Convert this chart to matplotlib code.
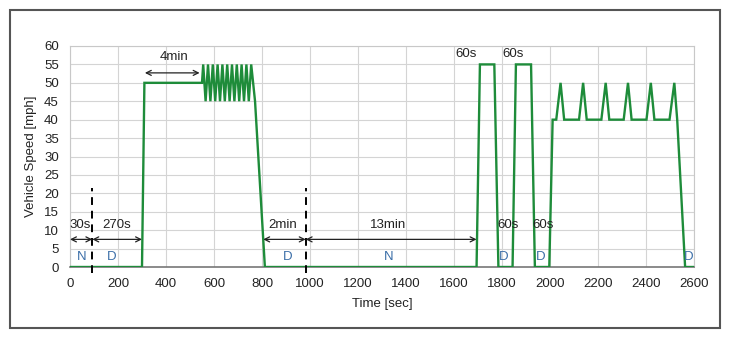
import matplotlib
matplotlib.use("Agg")
import matplotlib.pyplot as plt
from matplotlib.patches import Rectangle

plt.rcParams['font.family'] = ['Liberation Sans', 'DejaVu Sans']

# Drive-cycle speed trace
time_s = [0, 300, 310, 550,
          555, 565, 575, 585, 595, 605, 615, 625, 635, 645, 655,
          665, 675, 685, 695, 705, 715, 725, 735, 745, 755, 771,
          812, 1694, 1708, 1768, 1785, 1844, 1858, 1921, 1937, 1997,
          2011, 2026, 2044, 2059, 2121, 2138, 2153, 2214, 2232, 2247,
          2307, 2325, 2340, 2402, 2420, 2435, 2498, 2518, 2530, 2563, 2597]
speed_mph = [0, 0, 50, 50,
             55, 45, 55, 45, 55, 45, 55, 45, 55, 45, 55,
             45, 55, 45, 55, 45, 55, 45, 55, 45, 55, 45,
             0, 0, 55, 55, 0, 0, 55, 55, 0, 0,
             40, 40, 50, 40, 40, 50, 40, 40, 50, 40,
             40, 50, 40, 40, 50, 40, 40, 50, 40, 0, 0]

# Phase boundaries (dashed markers)
phase_marks = [93, 982]

# Duration arrows: (start, end, height) and their labels: (text, x, y)
arrows = [(0, 93, 7.5), (93, 300, 7.5), (312, 540, 52.7),
          (805, 982, 7.5), (982, 1694, 7.5)]
arrow_labels = [("30s", 42, 11.5), ("270s", 195, 11.5), ("4min", 433, 56.9),
                ("2min", 888, 11.5), ("13min", 1326, 11.5),
                ("60s", 1649, 57.7), ("60s", 1846, 57.7),
                ("60s", 1826, 11.5), ("60s", 1971, 11.5)]

# Gear state labels
gear_labels = [("N", 49), ("D", 174), ("D", 909), ("N", 1326),
               ("D", 1808), ("D", 1963), ("D", 2579)]

x_ticks = [0, 200, 400, 600, 800, 1000, 1200, 1400, 1600, 1800,
           2000, 2200, 2400, 2600]
y_ticks = [0, 5, 10, 15, 20, 25, 30, 35, 40, 45, 50, 55, 60]

FS = 9.5

fig = plt.figure(figsize=(7.3, 3.38), dpi=100)
fig.patch.set_facecolor('white')
ax = fig.add_axes([70/730, 1 - 267/338, 624/730, 221/338])

ax.plot(time_s, speed_mph, color='#1e8c3a', lw=1.7, zorder=4,
        solid_joinstyle='miter')

for xm in phase_marks:
    ax.plot([xm, xm], [-1.7, 21.5], color='black', lw=1.4,
            linestyle=(0, (4, 3)), clip_on=False, zorder=5)

for x0, x1, y in arrows:
    ax.annotate('', xy=(x1, y), xytext=(x0, y),
                arrowprops=dict(arrowstyle='<->', color='#222222', lw=0.9,
                                shrinkA=0, shrinkB=0, mutation_scale=9),
                zorder=6)

for txt, x, y in arrow_labels:
    ax.text(x, y, txt, ha='center', va='center', fontsize=FS,
            color='#222222', zorder=6)

for txt, x in gear_labels:
    ax.text(x, 2.7, txt, ha='center', va='center', fontsize=FS,
            color='#3b6ea8', zorder=6)

ax.set_xlim(0, 2600)
ax.set_ylim(0, 60)
ax.set_xticks(x_ticks)
ax.set_yticks(y_ticks)
ax.tick_params(length=0, labelsize=FS, colors='#222222')
ax.tick_params(axis='x', pad=8)
ax.tick_params(axis='y', pad=8)
ax.grid(True, color='#d4d4d4', lw=0.8)
ax.set_axisbelow(True)
for side in ['top', 'right', 'left']:
    ax.spines[side].set_color('#c8c8c8')
    ax.spines[side].set_linewidth(0.8)
ax.spines['bottom'].set_color('#777777')
ax.spines['bottom'].set_linewidth(1.2)

ax.set_xlabel('Time [sec]', fontsize=FS, color='#222222', labelpad=6)
ax.set_ylabel('Vehicle Speed [mph]', fontsize=FS, color='#222222', labelpad=5)

fig.add_artist(Rectangle((10/730, 10/338), 710/730, 318/338,
                         transform=fig.transFigure, fill=False,
                         edgecolor='#555555', lw=1.5))

fig.savefig('out.png', dpi=100, facecolor='white')
